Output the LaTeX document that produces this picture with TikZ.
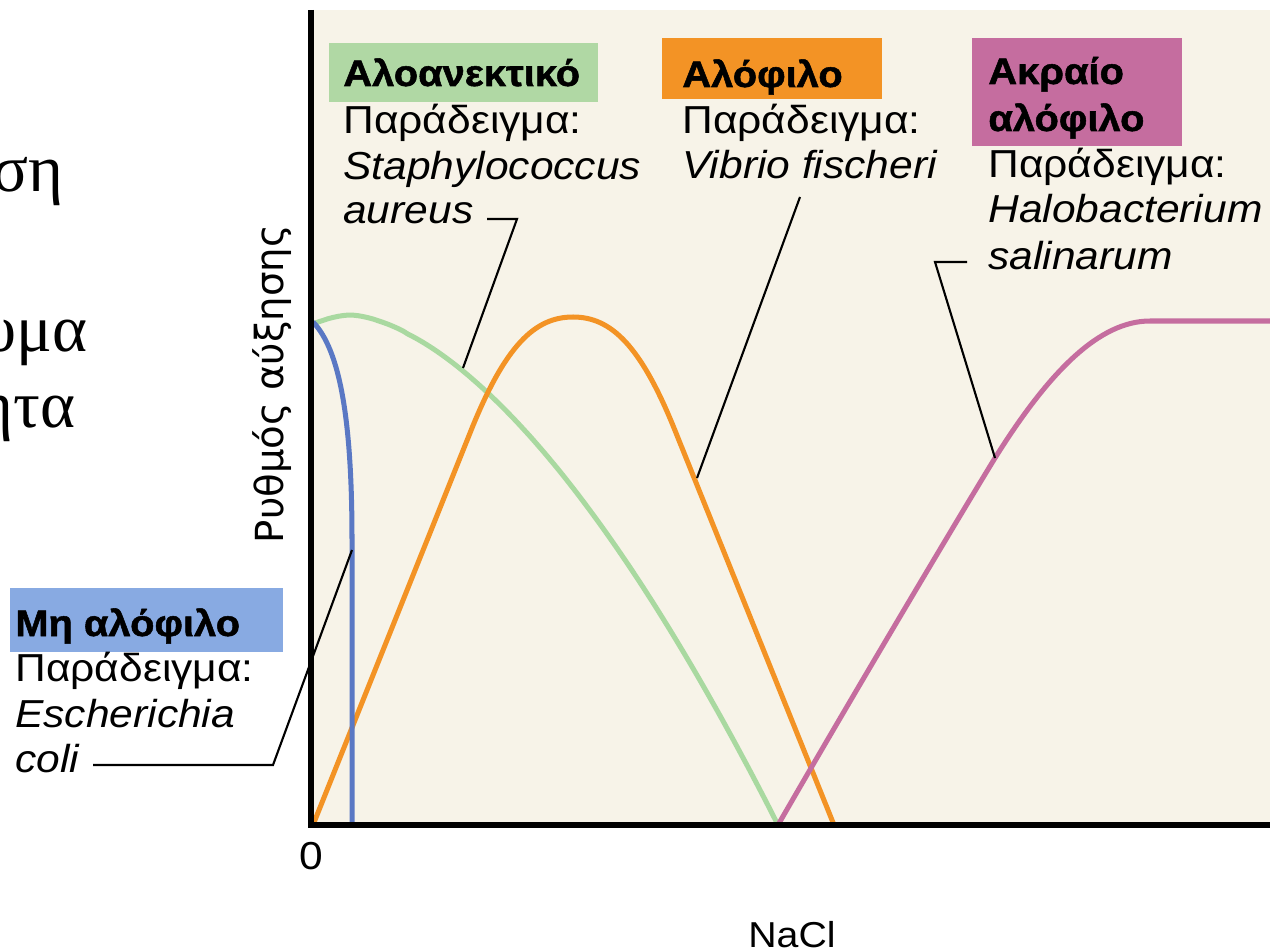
\documentclass[tikz,border=0pt]{standalone}
\usepackage{fontspec}
\setmainfont{Liberation Sans}
\newfontfamily\labfont[FakeStretch=1.09]{Liberation Sans}
\newfontfamily\ttlfont[FakeStretch=1.08, FakeBold=1.4]{Liberation Sans Bold}
\newfontfamily\axfont{DejaVu Sans}
\newfontfamily\serfont{Liberation Serif}
\usetikzlibrary{fit}
\definecolor{bgc}{HTML}{F7F3E8}
\definecolor{gboxc}{HTML}{B0D8A4}
\definecolor{gcurvec}{HTML}{A9D9A0}
\definecolor{oboxc}{HTML}{F39325}
\definecolor{pboxc}{HTML}{C56D9F}
\definecolor{bboxc}{HTML}{88AAE2}
\definecolor{bcurvec}{HTML}{5A78C4}
\begin{document}
\begin{tikzpicture}[x=0.02cm,y=-0.02cm,
  txt/.style={anchor=base west, inner sep=0pt, font=\labfont\fontsize{22.2}{26}\selectfont},
  ttl/.style={txt, font=\ttlfont\fontsize{21}{26}\selectfont},
  ital/.style={txt, font=\labfont\itshape\fontsize{22.2}{26}\selectfont},
  colbox/.style={inner sep=0pt, draw=none},
  curve/.style={line width=2.85pt},
  callout/.style={line width=1.2pt, black},
  frag/.style={anchor=base east, inner sep=0pt, font=\serfont\fontsize{38}{40}\selectfont}]
\useasboundingbox (0,0) rectangle (1270,952);
% plot background
\fill[bgc] (311,10) rectangle (1275,825);
% curves
\draw[curve, gcurvec] plot[domain=313:778, samples=94] (\x, {315+510*max(abs((\x-350)/428),0.0001)^1.658});
\draw[curve, oboxc] (313,825) -- (470,433) .. controls (505,345) and (535,317) .. (573,317)
   .. controls (611,317) and (641,345) .. (676,433) -- (834,825);
\draw[curve, pboxc] (778,825) .. controls (850,700) and (960,515) .. (995,458)
   .. controls (1050,370) and (1100,321) .. (1150,321) -- (1275,321);
\draw[curve, bcurvec] (313,322) .. controls (340,350) and (352,420) .. (352,540) -- (352,825);
% axes
\draw[line width=3.4pt] (311,10) -- (311,825) -- (1275,825);
% coloured title boxes
\node[colbox, fill=gboxc, fit={(329,43) (598,102)}] (gbox) {};
\node[colbox, fill=oboxc, fit={(662,38) (882,99)}] (obox) {};
\node[colbox, fill=pboxc, fit={(972,38) (1182,146)}] (pbox) {};
\node[colbox, fill=bboxc, fit={(10,588) (283,652)}] (bbox) {};
% green group
\node[ttl] (gt) at (343,86) {Αλοανεκτικό};
\node[txt] (gp) at (343,134) {Παράδειγμα:};
\node[ital] (gs1) at (343,180) {Staphylococcus};
\node[ital] (gs2) at (343,224) {aureus};
% orange group
\node[ttl] (ot) at (682,87) {Αλόφιλο};
\node[txt] (op) at (682,134) {Παράδειγμα:};
\node[ital] (os) at (682,179) {Vibrio fischeri};
% pink group
\node[ttl] (pt1) at (988,84) {Ακραίο};
\node[ttl] (pt2) at (988,131) {αλόφιλο};
\node[txt] (pp) at (988,178) {Παράδειγμα:};
\node[ital] (ps1) at (988,223) {Halobacterium};
\node[ital] (ps2) at (988,270) {salinarum};
% blue group
\node[ttl] (bt) at (15,636) {Μη αλόφιλο};
\node[txt] (bp) at (15,681) {Παράδειγμα:};
\node[ital] (bs1) at (15,727) {Escherichia};
\node[ital] (bs2) at (15,772) {coli};
% callouts
\coordinate (ea) at (93,765);
\coordinate (eb) at (273,765);
\coordinate (ec) at (352,550);
\draw[callout] (ea) -- (eb) -- (ec);
\coordinate (sa) at (487,219);
\coordinate (sb) at (517,219);
\coordinate (sc) at (463,368);
\draw[callout] (sa) -- (sb) -- (sc);
\coordinate (va) at (800,197);
\coordinate (vc) at (697,478);
\draw[callout] (va) -- (vc);
\coordinate (ha) at (967,262);
\coordinate (hb) at (935,262);
\coordinate (hc) at (995,458);
\draw[callout] (ha) -- (hb) -- (hc);
% axis labels
\node[rotate=90, anchor=base, inner sep=0pt, font=\axfont\fontsize{22}{24}\selectfont] (ylab) at (283,384) {Ρυθμός αύξησης};
\node[txt, anchor=base] (zero) at (311,869) {0};
\node[anchor=base, inner sep=0pt, font=\labfont\fontsize{20.5}{24}\selectfont] (nacl) at (792,947) {NaCl};
% cropped slide text
\node[frag] (f1) at (64,192) {ση};
\node[frag] (f2) at (88,352) {υμα};
\node[frag] (f3) at (76,427) {ητα};
\end{tikzpicture}
\end{document}
